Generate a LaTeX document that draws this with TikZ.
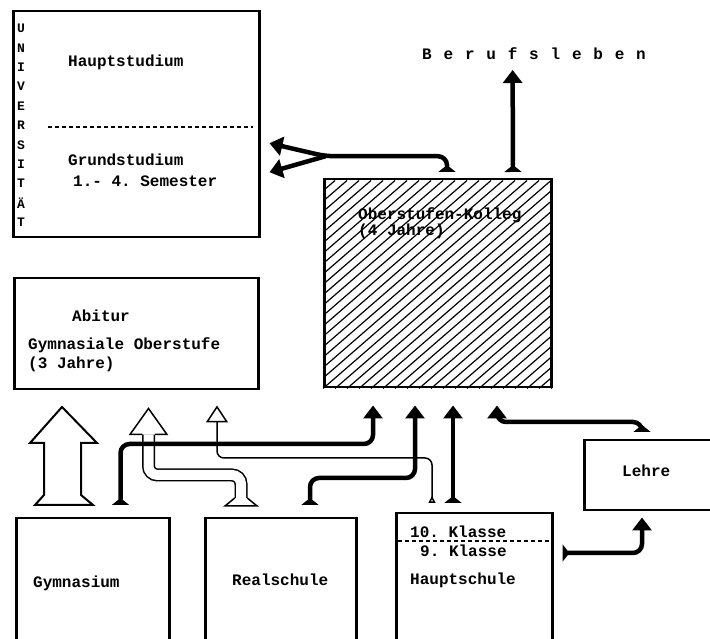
\documentclass[tikz,border=0pt]{standalone}
\usepackage{fontspec}
\setmonofont{Liberation Mono}
\usetikzlibrary{arrows.meta,calc}

\begin{document}
\begin{tikzpicture}[x=1pt,y=1pt,
  kasten/.style={draw, line width=2.5pt, anchor=north west, inner sep=0pt},
  schrift/.style={font=\fontsize{16}{18}\selectfont\ttfamily\bfseries, anchor=west, inner sep=0pt},
  pfeil/.style={line width=4.5pt, rounded corners=9pt, -{Triangle[width=19pt,length=13pt]}},
  fluss/.style={pfeil, {Triangle[reversed,width=17pt,length=7pt]}-{Triangle[width=19pt,length=13pt]}},
  duenn/.style={line width=1.5pt, rounded corners=7pt, {Triangle[open,reversed,width=7pt,length=7pt]}-{Triangle[open,width=22pt,length=17pt]}}]
\useasboundingbox (0,0) rectangle (710,639);

% Kaesten
\node (uni) [kasten, minimum width=246pt, minimum height=226pt] at (12,629) {};
\node (kolleg) [kasten, minimum width=227pt, minimum height=208pt] at (323,461) {};
\node (abitur) [kasten, minimum width=244pt, minimum height=111pt] at (13,362) {};
\node (gym) [kasten, minimum width=153pt, minimum height=135pt] at (15,122) {};
\node (real) [kasten, minimum width=151pt, minimum height=135pt] at (204,122) {};
\node (haupt) [kasten, minimum width=156pt, minimum height=135pt] at (395,127) {};
\node (lehre) [kasten, minimum width=140pt, minimum height=70pt] at (583,200) {};

% Schraffur
\begin{scope}
\clip (kolleg.south west) rectangle (kolleg.north east);
\foreach \d in {-252,-240,...,240}
  \draw[line width=1.2pt] ($(kolleg.south west)+(\d,0)$) -- ++(240,208);
\end{scope}

\draw[line width=1.5pt, dash pattern=on 4pt off 3pt] ($(uni.west)+(36,-3)$) -- ($(uni.east)+(-8,-3)$);
\draw[line width=1.5pt, dash pattern=on 4pt off 3pt] ($(haupt.north west)+(3,-29)$) -- ($(haupt.north east)+(0,-29)$);

% Texte
\foreach \c [count=\i] in {U,N,I,V,E,R,S,I,T,Ä,T}
  \node (uni\i) [schrift, anchor=center, font=\fontsize{13}{15}\selectfont\ttfamily\bfseries] at (21,630-19.4*\i) {\c};
\node (hauptst) [schrift] at (68,577) {Hauptstudium};
\node (grundst) [schrift] at (68,479) {Grundstudium};
\node (semester) [schrift] at (73,458) {1.- 4. Semester};
\node (kollegtext) [schrift] at (358,424) {Oberstufen-Kolleg};
\node (kollegjahre) [schrift] at (358,408) {(4 Jahre)};
\node (abiturtext) [schrift] at (72,323) {Abitur};
\node (oberstufe) [schrift] at (28,294) {Gymnasiale Oberstufe};
\node (oberjahre) [schrift] at (28,275) {(3 Jahre)};
\node (gymtext) [schrift] at (33,56) {Gymnasium};
\node (realtext) [schrift] at (232,59) {Realschule};
\node (klasse10) [schrift] at (410,107) {10. Klasse};
\node (klasse9) [schrift] at (420,88) {9. Klasse};
\node (haupttext) [schrift] at (410,59) {Hauptschule};
\node (lehretext) [schrift] at (622,168) {Lehre};
\foreach \c [count=\i] in {B,e,r,u,f,s,l,e,b,e,n}
  \node (beruf\i) [schrift, anchor=base] at (427+21.4*\i-21.4,579) {\c};

% Pfeile
\draw[fluss, rounded corners=0pt] ($(kolleg.north west)+(190,6)$) -- ($(beruf5.base)+(0,-10)$);
\coordinate (gabel) at ($(uni.east)+(65,-32)$);
\draw[fluss] ($(kolleg.north west)+(124,6)$) |- (gabel) -- ($(uni.east)+(9,-19)$);
\draw[pfeil] (gabel) -- ($(uni.east)+(9,-48)$);

\draw[line width=2pt, fill=white] ($(gym.north west)+(20,12)$) -- ++(58,0) -- ++(-12,10) -- ++(0,52)
  -- ++(16,0) -- ++(-35,36) -- ++(-32,-36) -- ++(14,0) -- ++(0,-52) -- cycle;

\draw[line width=1.5pt, double distance=10pt, rounded corners=9pt]
  ($(real.north west)+(37,19)$) -- ++(0,23) -| ($(abitur.south west)+(135.5,-44)$);
\filldraw[fill=white, line width=1.5pt] ($(abitur.south west)+(129.25,-44)$) -- ++(-12.25,0)
  -- ++(18.5,26) -- ++(18.5,-26) -- ++(-12.25,0);
\draw[line width=1.5pt] ($(real.north west)+(30.75,19)$) -- ++(-9.75,-8) -- ++(32,0) -- ++(-9.75,8);

\draw[duenn] ($(haupt.north west)+(37,9)$) -- ++(0,45) -| ($(abitur.south west)+(204,-15)$);

\draw[fluss] ($(gym.north east)+(-50,12)$) -- ++(0,61) -| ($(kolleg.south west)+(50,-17)$);
\draw[fluss] ($(real.north west)+(106,12)$) -- ++(0,27) -| ($(kolleg.south west)+(92,-17)$);
\draw[fluss] ($(haupt.north west)+(58,9)$) -- ($(kolleg.south west)+(130,-17)$);
\draw[fluss] ($(lehre.north west)+(59,7)$) -- ++(0,10) -| ($(kolleg.south west)+(174,-17)$);
\draw[fluss] ($(haupt.north east)+(9,-41)$) -| ($(lehre.south west)+(59,-6)$);
\end{tikzpicture}
\end{document}
